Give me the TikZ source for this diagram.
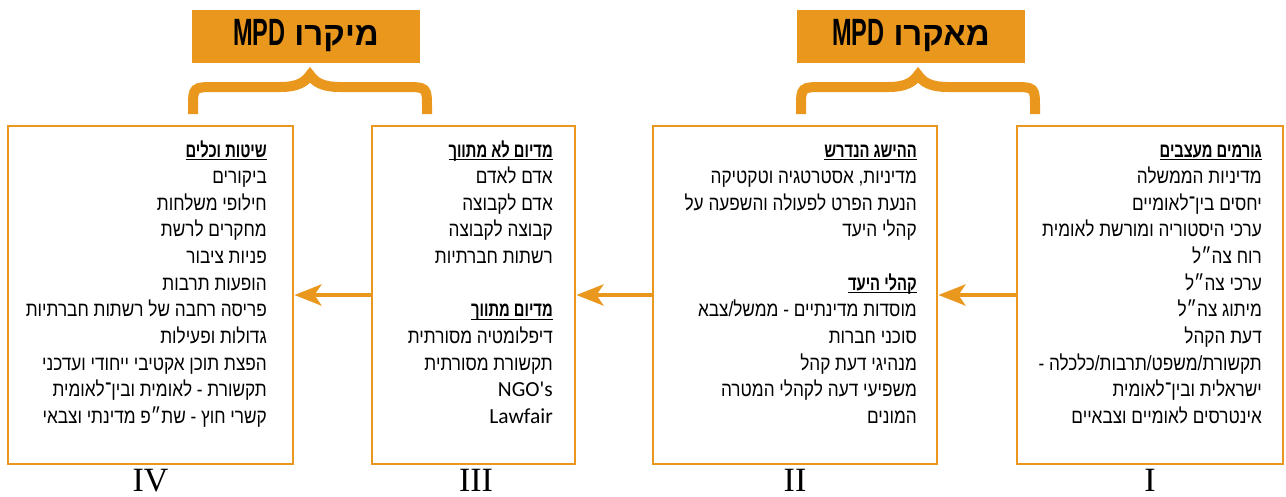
\documentclass[tikz,border=0pt]{standalone}
\usepackage{fontspec}
\usetikzlibrary{arrows.meta}
\TeXXeTstate=1
\newfontfamily\heb[Script=Hebrew,FakeStretch=0.84]{Liberation Sans}
\newfontfamily\hebb[Script=Hebrew,FakeStretch=0.72]{Liberation Sans Bold}
\newfontfamily\hebt[Script=Hebrew]{Liberation Sans Bold}
\newfontfamily\latf{Carlito}
\newfontfamily\mpdf[FakeStretch=0.62]{Liberation Sans Bold}
\newfontfamily\romf{Liberation Serif}
\definecolor{orng}{RGB}{233,151,29}
\newcommand\hd[1]{\setbox0\hbox{\hebb\beginR #1\endR}\hbox{\rlap{\rule[-3pt]{\wd0}{1.3pt}}\box0}}
\newcommand\tl[4]{\node[txt] (#1) at (#2,{157+26.65*#3}) {\beginR #4\endR};}
\tikzset{
 frame/.style={draw=orng, line width=2.8pt, inner sep=0, minimum height=338pt},
 txt/.style={anchor=base east, inner sep=0, font=\heb\fontsize{20.5}{24}\selectfont},
 ttl/.style={fill=orng, inner sep=0, minimum width=228pt, minimum height=53pt, text height=20pt, text depth=3pt},
 arr/.style={draw=orng, line width=4.5pt, -{Stealth[length=27pt,width=21pt,inset=7pt]}},
 brc/.style={draw=orng, line width=10pt, line join=miter},
 num/.style={anchor=base, inner sep=0, font=\romf\fontsize{34}{34}\selectfont},
}
\begin{document}
\begin{tikzpicture}[x=1pt,y=-1pt]
\useasboundingbox (0,0) rectangle (1286,496);
% boxes
\node[frame, minimum width=266pt] (I) at (1150,295) {};
\node[frame, minimum width=284pt] (II) at (795,295) {};
\node[frame, minimum width=203pt] (III) at (473.5,295) {};
\node[frame, minimum width=285pt] (IV) at (150.5,295) {};
% arrows
\draw[arr] (I.west) -- (II.east);
\draw[arr] (II.west) -- (III.east);
\draw[arr] (III.west) -- (IV.east);
% titles
\node[ttl] (macro) at (911,36.5) {\beginR{\hebt\fontsize{33}{33}\selectfont מאקרו}\hspace{9pt}{\mpdf\fontsize{38}{38}\selectfont MPD}\endR};
\node[ttl] (micro) at (306,36.5) {\beginR{\hebt\fontsize{33}{33}\selectfont מיקרו}\hspace{9pt}{\mpdf\fontsize{38}{38}\selectfont MPD}\endR};
% braces
\draw[brc] (801,114) -- (801,108) .. controls (801,87) .. (824,87) -- (888,87) .. controls (906,87) and (913,82) .. (918,75) .. controls (923,82) and (930,87) .. (948,87) -- (1012,87) .. controls (1035,87) .. (1035,108) -- (1035,114);
\draw[brc] (193,114) -- (193,108) .. controls (193,87) .. (216,87) -- (280,87) .. controls (298,87) and (305,82) .. (310,75) .. controls (315,82) and (322,87) .. (340,87) -- (404,87) .. controls (427,87) .. (427,108) -- (427,114);
% box I
\tl{I0}{1262}{0}{\hd{גורמים מעצבים}}
\tl{I1}{1262}{1}{מדיניות הממשלה}
\tl{I2}{1262}{2}{יחסים בין־לאומיים}
\tl{I3}{1262}{3}{ערכי היסטוריה ומורשת לאומית}
\tl{I4}{1262}{4}{רוח צה״ל}
\tl{I5}{1262}{5}{ערכי צה״ל}
\tl{I6}{1262}{6}{מיתוג צה״ל}
\tl{I7}{1262}{7}{דעת הקהל}
\tl{I8}{1262}{8}{תקשורת/משפט/תרבות/כלכלה -}
\tl{I9}{1262}{9}{ישראלית ובין־לאומית}
\tl{I10}{1262}{10}{אינטרסים לאומיים וצבאיים}
% box II
\tl{II0}{917}{0}{\hd{ההישג הנדרש}}
\tl{II1}{917}{1}{מדיניות, אסטרטגיה וטקטיקה}
\tl{II2}{917}{2}{הנעת הפרט לפעולה והשפעה על}
\tl{II3}{917}{3}{קהלי היעד}
\tl{II5}{917}{5}{\hd{קהלי היעד}}
\tl{II6}{917}{6}{מוסדות מדינתיים - ממשל/צבא}
\tl{II7}{917}{7}{סוכני חברות}
\tl{II8}{917}{8}{מנהיגי דעת קהל}
\tl{II9}{917}{9}{משפיעי דעה לקהלי המטרה}
\tl{II10}{917}{10}{המונים}
% box III
\tl{III0}{553}{0}{\hd{מדיום לא מתווך}}
\tl{III1}{553}{1}{אדם לאדם}
\tl{III2}{553}{2}{אדם לקבוצה}
\tl{III3}{553}{3}{קבוצה לקבוצה}
\tl{III4}{553}{4}{רשתות חברתיות}
\tl{III6}{553}{6}{\hd{מדיום מתווך}}
\tl{III7}{553}{7}{דיפלומטיה מסורתית}
\tl{III8}{553}{8}{תקשורת מסורתית}
\tl{III9}{553}{9}{{\latf\fontsize{21.5}{24}\selectfont NGO's}}
\tl{III10}{553}{10}{{\latf\fontsize{21.5}{24}\selectfont Lawfair}}
% box IV
\tl{IV0}{267}{0}{\hd{שיטות וכלים}}
\tl{IV1}{267}{1}{ביקורים}
\tl{IV2}{267}{2}{חילופי משלחות}
\tl{IV3}{267}{3}{מחקרים לרשת}
\tl{IV4}{267}{4}{פניות ציבור}
\tl{IV5}{267}{5}{הופעות תרבות}
\tl{IV6}{267}{6}{פריסה רחבה של רשתות חברתיות}
\tl{IV7}{267}{7}{גדולות ופעילות}
\tl{IV8}{267}{8}{הפצת תוכן אקטיבי ייחודי ועדכני}
\tl{IV9}{267}{9}{תקשורת - לאומית ובין־לאומית}
\tl{IV10}{267}{10}{קשרי חוץ - שת״פ מדינתי וצבאי}
% numerals
\node[num] (nI) at (1150,491) {I};
\node[num] (nII) at (795,491) {II};
\node[num] (nIII) at (476,491) {III};
\node[num] (nIV) at (150.5,491) {IV};
\end{tikzpicture}
\end{document}
